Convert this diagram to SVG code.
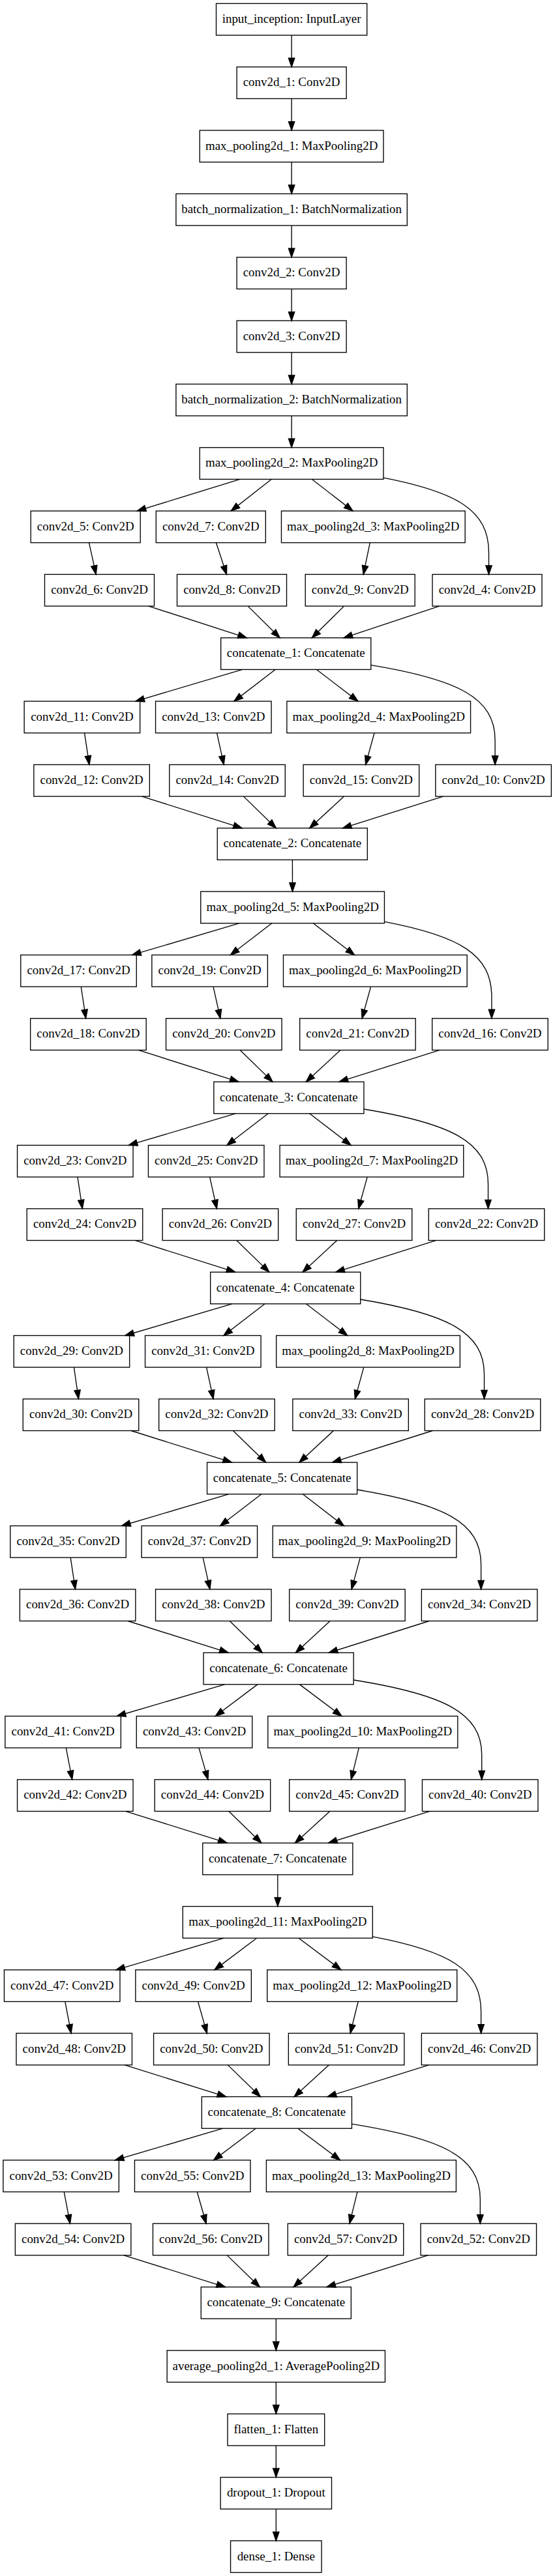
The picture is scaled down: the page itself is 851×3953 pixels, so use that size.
<svg xmlns="http://www.w3.org/2000/svg" width="851" height="3953" viewBox="0 0 851 3953">
<style>
.n rect{fill:none;stroke:#000;stroke-width:1.35}
.n text{font-family:"Liberation Serif","Times New Roman",serif;font-size:18.93px;text-anchor:middle;fill:#000}
.e path{fill:none;stroke:#000;stroke-width:1.35;marker-end:url(#ah)}
</style>
<defs>
<marker id="ah" markerUnits="userSpaceOnUse" viewBox="0 0 13.5 9.4" refX="13.5" refY="4.7" markerWidth="13.5" markerHeight="9.4" orient="auto" overflow="visible">
<path d="M0,0 L13.5,4.7 L0,9.4 Z" fill="#000" stroke="#000" stroke-width="1.35"/>
</marker>
</defs>
<rect width="851" height="3953" fill="#fff"/>
<g class="e" id="edges">
<path d="M447.1,54.08 L447.1,102.74"/>
<path d="M447.1,151.42 L447.1,200.07"/>
<path d="M447.1,248.75 L447.1,297.41"/>
<path d="M447.1,346.09 L447.1,394.75"/>
<path d="M447.1,443.43 L447.1,492.09"/>
<path d="M447.1,540.77 L447.1,589.42"/>
<path d="M447.1,638.10 L447.1,686.76"/>
<!-- block 1 -->
<path d="M368.12,735.44 L210.18,784.10"/>
<path d="M416.15,735.44 L354.25,784.10"/>
<path d="M478.4,735.44 L541.0,784.10"/>
<path d="M587.95,733.1 C701.0,755.1 749.5,783.1 749.5,848.1 L749.5,881.43"/>
<path d="M136.53,832.78 L147.17,881.43"/>
<path d="M331.35,832.78 L347.45,881.43"/>
<path d="M567.27,832.78 L557.23,881.43"/>
<path d="M227.8,930.11 L378.4,978.77"/>
<path d="M380.05,930.11 L429.15,978.77"/>
<path d="M527.57,930.11 L478.33,978.77"/>
<path d="M673.67,930.11 L527.03,978.77"/>
<!-- block 2 -->
<path d="M371.75,1027.45 L207.85,1076.11"/>
<path d="M422.1,1027.45 L358.9,1076.11"/>
<path d="M485.45,1027.45 L548.95,1076.11"/>
<path d="M568.75,1020.61 C702.0,1042.61 759.1,1070.61 759.1,1135.61 L759.1,1173.44"/>
<path d="M129.58,1124.79 L136.92,1173.44"/>
<path d="M332.6,1124.79 L343.2,1173.44"/>
<path d="M574.0,1124.79 L560.6,1173.44"/>
<path d="M217.53,1222.12 L371.37,1270.78"/>
<path d="M373.45,1222.12 L423.35,1270.78"/>
<path d="M527.5,1222.12 L474.7,1270.78"/>
<path d="M679.52,1222.12 L525.38,1270.78"/>
<path d="M448.38,1319.46 L448.53,1368.12"/>
<!-- block 3 -->
<path d="M366.57,1416.80 L202.53,1465.46"/>
<path d="M416.85,1416.80 L353.35,1465.46"/>
<path d="M480.28,1416.80 L543.62,1465.46"/>
<path d="M589.45,1414.46 C704.57,1436.46 753.9,1464.46 753.9,1529.46 L753.9,1562.79"/>
<path d="M124.23,1514.14 L131.67,1562.79"/>
<path d="M327.03,1514.14 L337.87,1562.79"/>
<path d="M568.57,1514.14 L555.13,1562.79"/>
<path d="M212.28,1611.47 L366.02,1660.13"/>
<path d="M368.2,1611.47 L418.0,1660.13"/>
<path d="M522.02,1611.47 L469.28,1660.13"/>
<path d="M674.27,1611.47 L520.03,1660.13"/>
<!-- block 4 -->
<path d="M361.0,1708.81 L197.2,1757.47"/>
<path d="M411.22,1708.81 L347.88,1757.47"/>
<path d="M474.65,1708.81 L538.15,1757.47"/>
<path d="M557.95,1701.97 C691.34,1723.97 748.5,1751.97 748.5,1816.97 L748.5,1854.80"/>
<path d="M118.98,1806.15 L126.32,1854.80"/>
<path d="M321.63,1806.15 L332.47,1854.80"/>
<path d="M563.17,1806.15 L549.73,1854.80"/>
<path d="M206.93,1903.48 L360.77,1952.14"/>
<path d="M362.85,1903.48 L412.75,1952.14"/>
<path d="M516.67,1903.48 L464.03,1952.14"/>
<path d="M668.92,1903.48 L514.78,1952.14"/>
<!-- block 5 -->
<path d="M355.75,2000.82 L191.85,2049.48"/>
<path d="M406.1,2000.82 L342.9,2049.48"/>
<path d="M469.4,2000.82 L532.8,2049.48"/>
<path d="M552.75,1993.98 C685.58,2015.98 742.5,2043.98 742.5,2108.98 L742.5,2146.81"/>
<path d="M113.43,2098.16 L120.47,2146.81"/>
<path d="M316.58,2098.16 L327.12,2146.81"/>
<path d="M557.77,2098.16 L544.33,2146.81"/>
<path d="M201.15,2195.49 L355.45,2244.15"/>
<path d="M357.45,2195.49 L407.55,2244.15"/>
<path d="M511.35,2195.49 L458.85,2244.15"/>
<path d="M663.15,2195.49 L509.45,2244.15"/>
<!-- block 6 -->
<path d="M350.57,2292.83 L186.53,2341.49"/>
<path d="M400.9,2292.83 L337.5,2341.49"/>
<path d="M464.2,2292.83 L527.4,2341.49"/>
<path d="M547.65,2285.99 C680.62,2307.99 737.6,2335.99 737.6,2400.99 L737.6,2438.83"/>
<path d="M108.15,2390.17 L115.45,2438.83"/>
<path d="M311.18,2390.17 L321.92,2438.83"/>
<path d="M552.35,2390.17 L539.05,2438.83"/>
<path d="M196.1,2487.51 L350.1,2536.16"/>
<path d="M352.25,2487.51 L402.15,2536.16"/>
<path d="M506.07,2487.51 L453.43,2536.16"/>
<path d="M658.1,2487.51 L504.1,2536.16"/>
<!-- block 7 -->
<path d="M344.47,2584.84 L179.23,2633.50"/>
<path d="M394.82,2584.84 L330.28,2633.50"/>
<path d="M459.4,2584.84 L524.0,2633.50"/>
<path d="M542.15,2578.0 C679.74,2600.0 738.7,2628.0 738.7,2693.0 L738.7,2730.84"/>
<path d="M101.28,2682.18 L110.62,2730.84"/>
<path d="M304.98,2682.18 L318.92,2730.84"/>
<path d="M550.32,2682.18 L538.38,2730.84"/>
<path d="M192.93,2779.52 L348.17,2828.17"/>
<path d="M350.88,2779.52 L400.82,2828.17"/>
<path d="M505.75,2779.52 L452.45,2828.17"/>
<path d="M658.6,2779.52 L503.4,2828.17"/>
<path d="M425.8,2876.85 L425.8,2925.51"/>
<!-- block 8 -->
<path d="M343.15,2974.19 L177.85,3022.85"/>
<path d="M393.5,2974.19 L328.9,3022.85"/>
<path d="M458.15,2974.19 L522.85,3022.85"/>
<path d="M571.3,2971.85 C687.71,2993.85 737.6,3021.85 737.6,3086.85 L737.6,3120.18"/>
<path d="M99.83,3071.53 L109.07,3120.18"/>
<path d="M303.53,3071.53 L317.37,3120.18"/>
<path d="M549.17,3071.53 L537.13,3120.18"/>
<path d="M191.38,3168.86 L346.72,3217.52"/>
<path d="M349.33,3168.86 L399.37,3217.52"/>
<path d="M504.42,3168.86 L451.08,3217.52"/>
<path d="M657.42,3168.86 L502.08,3217.52"/>
<!-- block 9 -->
<path d="M341.7,3266.20 L176.3,3314.86"/>
<path d="M392.1,3266.20 L327.5,3314.86"/>
<path d="M456.78,3266.20 L521.52,3314.86"/>
<path d="M539.45,3259.36 C677.25,3281.36 736.3,3309.36 736.3,3374.36 L736.3,3412.19"/>
<path d="M98.23,3363.54 L107.47,3412.19"/>
<path d="M302.2,3363.54 L316.2,3412.19"/>
<path d="M547.92,3363.54 L535.98,3412.19"/>
<path d="M189.9,3460.87 L345.5,3509.53"/>
<path d="M348.23,3460.87 L398.27,3509.53"/>
<path d="M503.32,3460.87 L449.98,3509.53"/>
<path d="M656.17,3460.87 L500.93,3509.53"/>
<!-- tail -->
<path d="M423.3,3558.21 L423.3,3606.87"/>
<path d="M423.3,3655.55 L423.3,3704.21"/>
<path d="M423.3,3752.89 L423.3,3801.54"/>
<path d="M423.3,3850.22 L423.3,3898.88"/>
</g>
<g class="n" id="input_inception" transform="translate(447.1,29.74)"><rect x="-115.6" y="-24.34" width="231.2" height="48.67"/><text y="5.3">input_inception: InputLayer</text></g>
<g class="n" id="conv2d_1" transform="translate(447.1,127.08)"><rect x="-84" y="-24.34" width="168" height="48.67"/><text y="5.3">conv2d_1: Conv2D</text></g>
<g class="n" id="max_pooling2d_1" transform="translate(447.1,224.41)"><rect x="-140.85" y="-24.34" width="281.7" height="48.67"/><text y="5.3">max_pooling2d_1: MaxPooling2D</text></g>
<g class="n" id="batch_normalization_1" transform="translate(447.1,321.75)"><rect x="-177.2" y="-24.34" width="354.4" height="48.67"/><text y="5.3">batch_normalization_1: BatchNormalization</text></g>
<g class="n" id="conv2d_2" transform="translate(447.1,419.09)"><rect x="-84" y="-24.34" width="168" height="48.67"/><text y="5.3">conv2d_2: Conv2D</text></g>
<g class="n" id="conv2d_3" transform="translate(447.1,516.43)"><rect x="-84" y="-24.34" width="168" height="48.67"/><text y="5.3">conv2d_3: Conv2D</text></g>
<g class="n" id="batch_normalization_2" transform="translate(447.1,613.76)"><rect x="-177.2" y="-24.34" width="354.4" height="48.67"/><text y="5.3">batch_normalization_2: BatchNormalization</text></g>
<g class="n" id="max_pooling2d_2" transform="translate(447.1,711.10)"><rect x="-140.85" y="-24.34" width="281.7" height="48.67"/><text y="5.3">max_pooling2d_2: MaxPooling2D</text></g>

<g class="n" id="conv2d_5" transform="translate(131.2,808.44)"><rect x="-84" y="-24.34" width="168" height="48.67"/><text y="5.3">conv2d_5: Conv2D</text></g>
<g class="n" id="conv2d_7" transform="translate(323.3,808.44)"><rect x="-84" y="-24.34" width="168" height="48.67"/><text y="5.3">conv2d_7: Conv2D</text></g>
<g class="n" id="max_pooling2d_3" transform="translate(572.3,808.44)"><rect x="-140.85" y="-24.34" width="281.7" height="48.67"/><text y="5.3">max_pooling2d_3: MaxPooling2D</text></g>
<g class="n" id="conv2d_6" transform="translate(152.5,905.77)"><rect x="-84" y="-24.34" width="168" height="48.67"/><text y="5.3">conv2d_6: Conv2D</text></g>
<g class="n" id="conv2d_8" transform="translate(355.5,905.77)"><rect x="-84" y="-24.34" width="168" height="48.67"/><text y="5.3">conv2d_8: Conv2D</text></g>
<g class="n" id="conv2d_9" transform="translate(552.2,905.77)"><rect x="-84" y="-24.34" width="168" height="48.67"/><text y="5.3">conv2d_9: Conv2D</text></g>
<g class="n" id="conv2d_4" transform="translate(747,905.77)"><rect x="-84" y="-24.34" width="168" height="48.67"/><text y="5.3">conv2d_4: Conv2D</text></g>
<g class="n" id="concatenate_1" transform="translate(453.7,1003.11)"><rect x="-115.05" y="-24.34" width="230.1" height="48.67"/><text y="5.3">concatenate_1: Concatenate</text></g>

<g class="n" id="conv2d_11" transform="translate(125.9,1100.45)"><rect x="-88.75" y="-24.34" width="177.5" height="48.67"/><text y="5.3">conv2d_11: Conv2D</text></g>
<g class="n" id="conv2d_13" transform="translate(327.3,1100.45)"><rect x="-88.75" y="-24.34" width="177.5" height="48.67"/><text y="5.3">conv2d_13: Conv2D</text></g>
<g class="n" id="max_pooling2d_4" transform="translate(580.7,1100.45)"><rect x="-140.85" y="-24.34" width="281.7" height="48.67"/><text y="5.3">max_pooling2d_4: MaxPooling2D</text></g>
<g class="n" id="conv2d_12" transform="translate(140.6,1197.78)"><rect x="-88.75" y="-24.34" width="177.5" height="48.67"/><text y="5.3">conv2d_12: Conv2D</text></g>
<g class="n" id="conv2d_14" transform="translate(348.5,1197.78)"><rect x="-88.75" y="-24.34" width="177.5" height="48.67"/><text y="5.3">conv2d_14: Conv2D</text></g>
<g class="n" id="conv2d_15" transform="translate(553.9,1197.78)"><rect x="-88.75" y="-24.34" width="177.5" height="48.67"/><text y="5.3">conv2d_15: Conv2D</text></g>
<g class="n" id="conv2d_10" transform="translate(756.6,1197.78)"><rect x="-88.75" y="-24.34" width="177.5" height="48.67"/><text y="5.3">conv2d_10: Conv2D</text></g>
<g class="n" id="concatenate_2" transform="translate(448.3,1295.12)"><rect x="-115.05" y="-24.34" width="230.1" height="48.67"/><text y="5.3">concatenate_2: Concatenate</text></g>
<g class="n" id="max_pooling2d_5" transform="translate(448.6,1392.46)"><rect x="-140.85" y="-24.34" width="281.7" height="48.67"/><text y="5.3">max_pooling2d_5: MaxPooling2D</text></g>

<g class="n" id="conv2d_17" transform="translate(120.5,1489.80)"><rect x="-88.75" y="-24.34" width="177.5" height="48.67"/><text y="5.3">conv2d_17: Conv2D</text></g>
<g class="n" id="conv2d_19" transform="translate(321.6,1489.80)"><rect x="-88.75" y="-24.34" width="177.5" height="48.67"/><text y="5.3">conv2d_19: Conv2D</text></g>
<g class="n" id="max_pooling2d_6" transform="translate(575.3,1489.80)"><rect x="-140.85" y="-24.34" width="281.7" height="48.67"/><text y="5.3">max_pooling2d_6: MaxPooling2D</text></g>
<g class="n" id="conv2d_18" transform="translate(135.4,1587.13)"><rect x="-88.75" y="-24.34" width="177.5" height="48.67"/><text y="5.3">conv2d_18: Conv2D</text></g>
<g class="n" id="conv2d_20" transform="translate(343.3,1587.13)"><rect x="-88.75" y="-24.34" width="177.5" height="48.67"/><text y="5.3">conv2d_20: Conv2D</text></g>
<g class="n" id="conv2d_21" transform="translate(548.4,1587.13)"><rect x="-88.75" y="-24.34" width="177.5" height="48.67"/><text y="5.3">conv2d_21: Conv2D</text></g>
<g class="n" id="conv2d_16" transform="translate(751.4,1587.13)"><rect x="-88.75" y="-24.34" width="177.5" height="48.67"/><text y="5.3">conv2d_16: Conv2D</text></g>
<g class="n" id="concatenate_3" transform="translate(442.9,1684.47)"><rect x="-115.05" y="-24.34" width="230.1" height="48.67"/><text y="5.3">concatenate_3: Concatenate</text></g>

<g class="n" id="conv2d_23" transform="translate(115.3,1781.81)"><rect x="-88.75" y="-24.34" width="177.5" height="48.67"/><text y="5.3">conv2d_23: Conv2D</text></g>
<g class="n" id="conv2d_25" transform="translate(316.2,1781.81)"><rect x="-88.75" y="-24.34" width="177.5" height="48.67"/><text y="5.3">conv2d_25: Conv2D</text></g>
<g class="n" id="max_pooling2d_7" transform="translate(569.9,1781.81)"><rect x="-140.85" y="-24.34" width="281.7" height="48.67"/><text y="5.3">max_pooling2d_7: MaxPooling2D</text></g>
<g class="n" id="conv2d_24" transform="translate(130,1879.14)"><rect x="-88.75" y="-24.34" width="177.5" height="48.67"/><text y="5.3">conv2d_24: Conv2D</text></g>
<g class="n" id="conv2d_26" transform="translate(337.9,1879.14)"><rect x="-88.75" y="-24.34" width="177.5" height="48.67"/><text y="5.3">conv2d_26: Conv2D</text></g>
<g class="n" id="conv2d_27" transform="translate(543,1879.14)"><rect x="-88.75" y="-24.34" width="177.5" height="48.67"/><text y="5.3">conv2d_27: Conv2D</text></g>
<g class="n" id="conv2d_22" transform="translate(746,1879.14)"><rect x="-88.75" y="-24.34" width="177.5" height="48.67"/><text y="5.3">conv2d_22: Conv2D</text></g>
<g class="n" id="concatenate_4" transform="translate(437.7,1976.48)"><rect x="-115.05" y="-24.34" width="230.1" height="48.67"/><text y="5.3">concatenate_4: Concatenate</text></g>

<g class="n" id="conv2d_29" transform="translate(109.9,2073.82)"><rect x="-88.75" y="-24.34" width="177.5" height="48.67"/><text y="5.3">conv2d_29: Conv2D</text></g>
<g class="n" id="conv2d_31" transform="translate(311.3,2073.82)"><rect x="-88.75" y="-24.34" width="177.5" height="48.67"/><text y="5.3">conv2d_31: Conv2D</text></g>
<g class="n" id="max_pooling2d_8" transform="translate(564.5,2073.82)"><rect x="-140.85" y="-24.34" width="281.7" height="48.67"/><text y="5.3">max_pooling2d_8: MaxPooling2D</text></g>
<g class="n" id="conv2d_30" transform="translate(124,2171.15)"><rect x="-88.75" y="-24.34" width="177.5" height="48.67"/><text y="5.3">conv2d_30: Conv2D</text></g>
<g class="n" id="conv2d_32" transform="translate(332.4,2171.15)"><rect x="-88.75" y="-24.34" width="177.5" height="48.67"/><text y="5.3">conv2d_32: Conv2D</text></g>
<g class="n" id="conv2d_33" transform="translate(537.6,2171.15)"><rect x="-88.75" y="-24.34" width="177.5" height="48.67"/><text y="5.3">conv2d_33: Conv2D</text></g>
<g class="n" id="conv2d_28" transform="translate(740,2171.15)"><rect x="-88.75" y="-24.34" width="177.5" height="48.67"/><text y="5.3">conv2d_28: Conv2D</text></g>
<g class="n" id="concatenate_5" transform="translate(432.6,2268.49)"><rect x="-115.05" y="-24.34" width="230.1" height="48.67"/><text y="5.3">concatenate_5: Concatenate</text></g>

<g class="n" id="conv2d_35" transform="translate(104.5,2365.83)"><rect x="-88.75" y="-24.34" width="177.5" height="48.67"/><text y="5.3">conv2d_35: Conv2D</text></g>
<g class="n" id="conv2d_37" transform="translate(305.8,2365.83)"><rect x="-88.75" y="-24.34" width="177.5" height="48.67"/><text y="5.3">conv2d_37: Conv2D</text></g>
<g class="n" id="max_pooling2d_9" transform="translate(559,2365.83)"><rect x="-140.85" y="-24.34" width="281.7" height="48.67"/><text y="5.3">max_pooling2d_9: MaxPooling2D</text></g>
<g class="n" id="conv2d_36" transform="translate(119.1,2463.17)"><rect x="-88.75" y="-24.34" width="177.5" height="48.67"/><text y="5.3">conv2d_36: Conv2D</text></g>
<g class="n" id="conv2d_38" transform="translate(327.3,2463.17)"><rect x="-88.75" y="-24.34" width="177.5" height="48.67"/><text y="5.3">conv2d_38: Conv2D</text></g>
<g class="n" id="conv2d_39" transform="translate(532.4,2463.17)"><rect x="-88.75" y="-24.34" width="177.5" height="48.67"/><text y="5.3">conv2d_39: Conv2D</text></g>
<g class="n" id="conv2d_34" transform="translate(735.1,2463.17)"><rect x="-88.75" y="-24.34" width="177.5" height="48.67"/><text y="5.3">conv2d_34: Conv2D</text></g>
<g class="n" id="concatenate_6" transform="translate(427.1,2560.50)"><rect x="-115.05" y="-24.34" width="230.1" height="48.67"/><text y="5.3">concatenate_6: Concatenate</text></g>

<g class="n" id="conv2d_41" transform="translate(96.6,2657.84)"><rect x="-88.75" y="-24.34" width="177.5" height="48.67"/><text y="5.3">conv2d_41: Conv2D</text></g>
<g class="n" id="conv2d_43" transform="translate(298,2657.84)"><rect x="-88.75" y="-24.34" width="177.5" height="48.67"/><text y="5.3">conv2d_43: Conv2D</text></g>
<g class="n" id="max_pooling2d_10" transform="translate(556.3,2657.84)"><rect x="-145.5" y="-24.34" width="291" height="48.67"/><text y="5.3">max_pooling2d_10: MaxPooling2D</text></g>
<g class="n" id="conv2d_42" transform="translate(115.3,2755.18)"><rect x="-88.75" y="-24.34" width="177.5" height="48.67"/><text y="5.3">conv2d_42: Conv2D</text></g>
<g class="n" id="conv2d_44" transform="translate(325.9,2755.18)"><rect x="-88.75" y="-24.34" width="177.5" height="48.67"/><text y="5.3">conv2d_44: Conv2D</text></g>
<g class="n" id="conv2d_45" transform="translate(532.4,2755.18)"><rect x="-88.75" y="-24.34" width="177.5" height="48.67"/><text y="5.3">conv2d_45: Conv2D</text></g>
<g class="n" id="conv2d_40" transform="translate(736.2,2755.18)"><rect x="-88.75" y="-24.34" width="177.5" height="48.67"/><text y="5.3">conv2d_40: Conv2D</text></g>
<g class="n" id="concatenate_7" transform="translate(425.8,2852.51)"><rect x="-115.05" y="-24.34" width="230.1" height="48.67"/><text y="5.3">concatenate_7: Concatenate</text></g>
<g class="n" id="max_pooling2d_11" transform="translate(425.8,2949.85)"><rect x="-145.5" y="-24.34" width="291" height="48.67"/><text y="5.3">max_pooling2d_11: MaxPooling2D</text></g>

<g class="n" id="conv2d_47" transform="translate(95.2,3047.19)"><rect x="-88.75" y="-24.34" width="177.5" height="48.67"/><text y="5.3">conv2d_47: Conv2D</text></g>
<g class="n" id="conv2d_49" transform="translate(296.6,3047.19)"><rect x="-88.75" y="-24.34" width="177.5" height="48.67"/><text y="5.3">conv2d_49: Conv2D</text></g>
<g class="n" id="max_pooling2d_12" transform="translate(555.2,3047.19)"><rect x="-145.5" y="-24.34" width="291" height="48.67"/><text y="5.3">max_pooling2d_12: MaxPooling2D</text></g>
<g class="n" id="conv2d_48" transform="translate(113.7,3144.52)"><rect x="-88.75" y="-24.34" width="177.5" height="48.67"/><text y="5.3">conv2d_48: Conv2D</text></g>
<g class="n" id="conv2d_50" transform="translate(324.3,3144.52)"><rect x="-88.75" y="-24.34" width="177.5" height="48.67"/><text y="5.3">conv2d_50: Conv2D</text></g>
<g class="n" id="conv2d_51" transform="translate(531.1,3144.52)"><rect x="-88.75" y="-24.34" width="177.5" height="48.67"/><text y="5.3">conv2d_51: Conv2D</text></g>
<g class="n" id="conv2d_46" transform="translate(735.1,3144.52)"><rect x="-88.75" y="-24.34" width="177.5" height="48.67"/><text y="5.3">conv2d_46: Conv2D</text></g>
<g class="n" id="concatenate_8" transform="translate(424.4,3241.86)"><rect x="-115.05" y="-24.34" width="230.1" height="48.67"/><text y="5.3">concatenate_8: Concatenate</text></g>

<g class="n" id="conv2d_53" transform="translate(93.6,3339.20)"><rect x="-88.75" y="-24.34" width="177.5" height="48.67"/><text y="5.3">conv2d_53: Conv2D</text></g>
<g class="n" id="conv2d_55" transform="translate(295.2,3339.20)"><rect x="-88.75" y="-24.34" width="177.5" height="48.67"/><text y="5.3">conv2d_55: Conv2D</text></g>
<g class="n" id="max_pooling2d_13" transform="translate(553.9,3339.20)"><rect x="-145.5" y="-24.34" width="291" height="48.67"/><text y="5.3">max_pooling2d_13: MaxPooling2D</text></g>
<g class="n" id="conv2d_54" transform="translate(112.1,3436.53)"><rect x="-88.75" y="-24.34" width="177.5" height="48.67"/><text y="5.3">conv2d_54: Conv2D</text></g>
<g class="n" id="conv2d_56" transform="translate(323.2,3436.53)"><rect x="-88.75" y="-24.34" width="177.5" height="48.67"/><text y="5.3">conv2d_56: Conv2D</text></g>
<g class="n" id="conv2d_57" transform="translate(530,3436.53)"><rect x="-88.75" y="-24.34" width="177.5" height="48.67"/><text y="5.3">conv2d_57: Conv2D</text></g>
<g class="n" id="conv2d_52" transform="translate(733.8,3436.53)"><rect x="-88.75" y="-24.34" width="177.5" height="48.67"/><text y="5.3">conv2d_52: Conv2D</text></g>
<g class="n" id="concatenate_9" transform="translate(423.3,3533.87)"><rect x="-115.05" y="-24.34" width="230.1" height="48.67"/><text y="5.3">concatenate_9: Concatenate</text></g>

<g class="n" id="average_pooling2d_1" transform="translate(423.3,3631.21)"><rect x="-167.15" y="-24.34" width="334.3" height="48.67"/><text y="5.3">average_pooling2d_1: AveragePooling2D</text></g>
<g class="n" id="flatten_1" transform="translate(423.3,3728.55)"><rect x="-74.35" y="-24.34" width="148.7" height="48.67"/><text y="5.3">flatten_1: Flatten</text></g>
<g class="n" id="dropout_1" transform="translate(423.3,3825.88)"><rect x="-85.2" y="-24.34" width="170.4" height="48.67"/><text y="5.3">dropout_1: Dropout</text></g>
<g class="n" id="dense_1" transform="translate(423.3,3923.22)"><rect x="-69.75" y="-24.34" width="139.5" height="48.67"/><text y="5.3">dense_1: Dense</text></g>
</svg>
